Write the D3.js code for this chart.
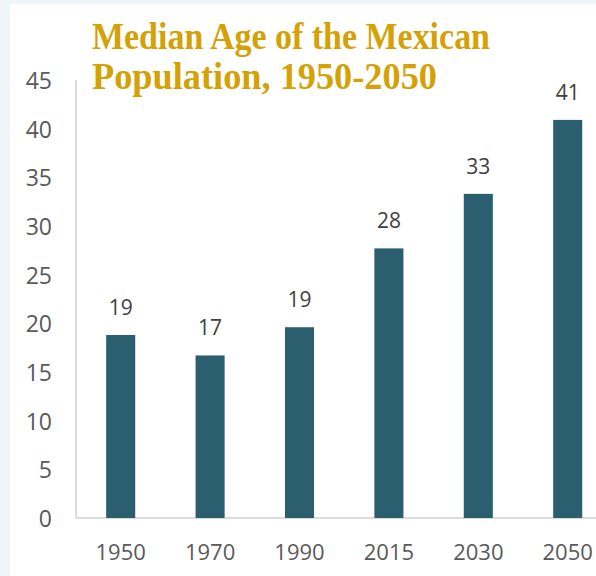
<!DOCTYPE html>
<html><head><meta charset="utf-8">
<script src="https://cdn.jsdelivr.net/npm/d3@7"></script>
<style>
html,body{margin:0;padding:0;background:#eef6f8;}
svg{display:block;}
</style></head>
<body>
<svg id="chart" width="596" height="576"></svg>
<script>
const categories = ["1950","1970","1990","2015","2030","2050"];
const values = [18.8, 16.7, 19.6, 27.7, 33.3, 40.9];
const labels = ["19","17","19","28","33","41"];
const yTicks = [0,5,10,15,20,25,30,35,40,45];
const titleLines = ["Median Age of the Mexican","Population, 1950-2050"];

const svg = d3.select("#chart");
svg.append("rect").attr("x",0).attr("y",0).attr("width",596).attr("height",576).attr("fill","#eef6f8");
svg.append("rect").attr("x",10).attr("y",4).attr("width",586).attr("height",572).attr("fill","#ffffff");

const x0 = 76, yBase = 518;
const step = 89.4;
const x = d3.scaleBand().domain(categories).range([x0, x0 + step*categories.length]).paddingInner(0.675).paddingOuter(0.3375);
const y = d3.scaleLinear().domain([0,45]).range([yBase, 80]);

// axis lines
svg.append("line").attr("x1",x0).attr("x2",x0).attr("y1",y(45)).attr("y2",yBase).attr("stroke","#d0d0d0").attr("stroke-width",1.5);
svg.append("line").attr("x1",x0).attr("x2",596).attr("y1",yBase).attr("y2",yBase).attr("stroke","#d0d0d0").attr("stroke-width",1.5);

const yAxis = d3.axisLeft(y).tickValues(yTicks).tickSize(0).tickPadding(0);
const gy = svg.append("g").attr("transform",`translate(52,1)`).call(yAxis);
gy.select(".domain").remove();
gy.selectAll("text").attr("font-family","'Open Sans', sans-serif").attr("font-size",23).attr("fill","#595959").attr("text-anchor","end");

const xAxis = d3.axisBottom(x).tickSize(0).tickPadding(0);
const gx = svg.append("g").attr("transform",`translate(0,${yBase+26})`).call(xAxis);
gx.select(".domain").remove();
gx.selectAll("text").attr("font-family","'Open Sans', sans-serif").attr("font-size",22).attr("fill","#595959");

svg.append("g").selectAll("rect").data(values).join("rect")
  .attr("x",(d,i)=>x(categories[i]))
  .attr("width",x.bandwidth())
  .attr("y",d=>y(d))
  .attr("height",d=>yBase-y(d))
  .attr("fill","#2b5f6f");

svg.append("g").selectAll("text").data(values).join("text")
  .attr("x",(d,i)=>x(categories[i])+x.bandwidth()/2)
  .attr("y",d=>y(d)-20)
  .attr("text-anchor","middle")
  .attr("font-family","'Open Sans', sans-serif").attr("font-size",21).attr("fill","#404040")
  .text((d,i)=>labels[i]);

const tw = [398, 345];
svg.append("g").selectAll("text").data(titleLines).join("text")
  .attr("x",92).attr("y",(d,i)=>49+i*40)
  .attr("font-family","'Liberation Serif', serif").attr("font-weight","bold").attr("font-size",37)
  .attr("fill","#d4a106")
  .attr("textLength",(d,i)=>tw[i]).attr("lengthAdjust","spacingAndGlyphs")
  .text(d=>d);
</script>
</body></html>
